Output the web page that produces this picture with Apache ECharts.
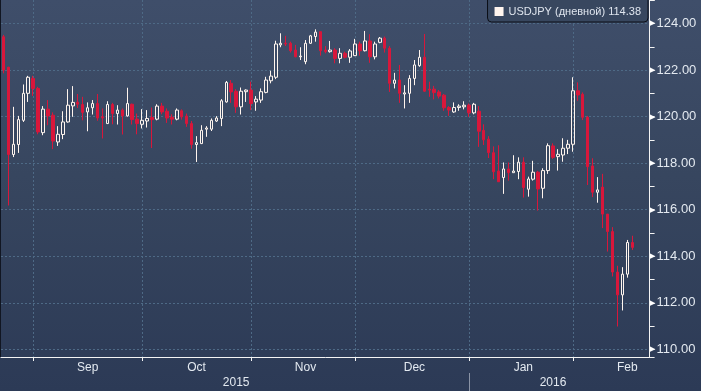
<!DOCTYPE html>
<html><head><meta charset="utf-8">
<script src="https://cdn.jsdelivr.net/npm/echarts@6/dist/echarts.min.js"></script>
<style>
html,body{margin:0;padding:0;background:#2c3a56;}
#wrap{position:relative;width:701px;height:391px;background:linear-gradient(to bottom,#3f4e6a 0%,#37465f 45%,#2c3a56 100%);overflow:hidden;}
#c{position:absolute;left:0;top:0;width:701px;height:391px;}
#edge{position:absolute;left:0;top:0;width:1px;height:357px;background:#111622;}
</style></head><body>
<div id="wrap"><div id="c"></div><div id="edge"></div></div>
<script>
const seriesName = 'USDJPY (дневной)';
// trading days (weekdays); the last three are empty future slots on the axis
const dates = [
'2015-08-21','2015-08-24','2015-08-25','2015-08-26','2015-08-27','2015-08-28','2015-08-31',
'2015-09-01','2015-09-02','2015-09-03','2015-09-04','2015-09-07','2015-09-08','2015-09-09','2015-09-10','2015-09-11',
'2015-09-14','2015-09-15','2015-09-16','2015-09-17','2015-09-18','2015-09-21','2015-09-22','2015-09-23','2015-09-24','2015-09-25',
'2015-09-28','2015-09-29','2015-09-30',
'2015-10-01','2015-10-02','2015-10-05','2015-10-06','2015-10-07','2015-10-08','2015-10-09','2015-10-12','2015-10-13','2015-10-14','2015-10-15','2015-10-16',
'2015-10-19','2015-10-20','2015-10-21','2015-10-22','2015-10-23','2015-10-26','2015-10-27','2015-10-28','2015-10-29','2015-10-30',
'2015-11-02','2015-11-03','2015-11-04','2015-11-05','2015-11-06','2015-11-09','2015-11-10','2015-11-11','2015-11-12','2015-11-13',
'2015-11-16','2015-11-17','2015-11-18','2015-11-19','2015-11-20','2015-11-23','2015-11-24','2015-11-25','2015-11-26','2015-11-27','2015-11-30',
'2015-12-01','2015-12-02','2015-12-03','2015-12-04','2015-12-07','2015-12-08','2015-12-09','2015-12-10','2015-12-11',
'2015-12-14','2015-12-15','2015-12-16','2015-12-17','2015-12-18','2015-12-21','2015-12-22','2015-12-23','2015-12-24','2015-12-25',
'2015-12-28','2015-12-29','2015-12-30','2015-12-31',
'2016-01-01','2016-01-04','2016-01-05','2016-01-06','2016-01-07','2016-01-08','2016-01-11','2016-01-12','2016-01-13','2016-01-14','2016-01-15',
'2016-01-18','2016-01-19','2016-01-20','2016-01-21','2016-01-22','2016-01-25','2016-01-26','2016-01-27','2016-01-28','2016-01-29',
'2016-02-01','2016-02-02','2016-02-03','2016-02-04','2016-02-05','2016-02-08','2016-02-09','2016-02-10','2016-02-11','2016-02-12',
'2016-02-15','2016-02-16',
'2016-02-17','2016-02-18','2016-02-19'
];
const openP = [123.43,122.12,118.37,118.80,119.84,121.00,121.64,121.21,119.31,120.32,120.06,118.91,119.23,119.77,120.46,120.62,120.52,120.20,120.38,120.56,
119.99,119.70,120.52,120.13,120.28,120.03,120.53,119.89,119.67,119.81,119.96,119.89,120.45,120.23,119.97,119.89,120.25,120.02,119.70,118.80,
118.84,119.46,119.46,119.81,119.92,120.63,121.43,121.09,120.42,121.07,121.14,120.63,120.71,121.04,121.54,121.69,123.08,123.15,123.15,122.86,
122.57,122.36,123.15,123.44,123.65,122.86,122.79,122.86,122.50,122.72,122.55,122.62,123.12,122.83,123.25,122.57,123.19,123.37,122.94,121.43,
121.57,120.97,121.00,121.64,122.19,122.55,121.18,121.18,121.06,120.92,120.39,120.20,120.39,120.42,120.49,120.16,120.23,119.41,119.03,118.45,
117.66,117.38,117.75,117.59,117.64,118.04,116.88,117.31,117.61,116.92,117.68,118.74,118.28,118.35,118.64,118.81,121.11,120.96,119.97,117.88,
116.75,116.97,115.81,115.06,113.32,112.34,113.23,114.59];
const closeP = [122.00,118.37,118.81,119.87,121.00,121.69,121.21,119.34,120.32,120.03,118.95,119.24,119.77,120.49,120.61,120.53,120.18,120.38,120.56,119.94,
119.94,120.52,120.13,120.28,120.03,120.56,119.87,119.70,119.84,119.92,119.87,120.45,120.20,119.94,119.89,120.28,119.99,119.70,118.80,118.88,
119.41,119.51,119.84,119.94,120.68,121.47,121.06,120.42,121.09,121.14,120.56,120.75,121.07,121.57,121.74,123.12,123.15,123.12,122.83,122.57,
122.60,123.15,123.47,123.63,122.83,122.79,122.86,122.50,122.72,122.55,122.82,123.12,122.83,123.25,122.57,123.12,123.37,122.94,121.43,121.57,
121.00,121.02,121.64,122.22,122.55,121.09,121.14,121.03,120.88,120.38,120.28,120.39,120.45,120.49,120.16,120.53,119.37,119.00,118.45,117.63,
117.20,117.75,117.59,117.66,118.04,116.95,117.32,117.61,116.89,117.68,118.75,118.25,118.38,118.64,118.81,121.11,120.93,119.97,117.85,116.75,
116.85,115.81,115.06,113.32,112.34,113.23,114.59,114.38];
const lowP = [121.86,116.18,118.26,118.44,119.77,120.63,120.89,119.24,119.20,119.63,118.60,118.74,119.03,119.74,119.99,120.37,119.84,119.37,120.09,119.82,
119.06,119.68,119.67,119.66,119.23,120.00,119.66,119.24,119.49,119.53,118.65,119.84,120.10,119.73,119.66,119.84,119.87,119.56,118.62,118.05,
118.82,119.13,119.38,119.77,119.59,120.60,120.59,120.16,120.09,120.63,120.28,120.25,120.59,121.00,121.43,121.61,122.98,123.03,122.75,122.55,
122.43,122.25,123.12,123.22,122.62,122.72,122.75,122.29,122.29,122.50,122.31,122.60,122.62,122.80,122.31,122.46,123.15,122.75,121.06,121.21,
120.59,120.35,120.59,121.35,122.14,121.06,120.85,120.74,120.78,120.25,120.03,120.16,120.25,120.31,119.99,120.10,118.70,118.78,118.22,117.31,
117.20,116.68,117.25,117.59,117.31,116.52,116.56,117.25,115.96,116.49,117.54,118.18,117.68,118.06,118.39,118.49,120.68,119.85,117.06,116.54,
116.30,115.21,114.20,113.13,110.98,111.67,113.08,114.27];
const highP = [123.51,122.14,120.42,120.03,121.38,121.75,121.75,121.28,120.45,120.71,120.18,119.59,120.23,121.18,121.31,120.97,120.85,120.61,120.71,120.97,
120.35,120.66,120.59,120.49,120.35,121.24,120.56,120.13,120.32,120.28,120.39,120.53,120.59,120.35,120.10,120.35,120.31,120.13,119.81,119.16,
119.63,119.59,119.92,120.02,120.75,121.53,121.57,121.18,121.25,121.17,121.50,120.88,121.21,121.71,121.97,123.26,123.58,123.47,123.22,123.08,
122.98,123.29,123.51,123.75,123.65,123.03,123.25,122.94,122.94,122.79,122.90,123.34,123.22,123.68,123.54,123.22,123.42,123.44,123.03,121.88,
122.22,121.35,121.78,122.43,122.86,123.55,121.50,121.32,121.14,120.97,120.45,120.61,120.53,120.66,120.56,120.59,120.45,119.67,119.16,118.72,
118.77,118.03,118.03,118.34,118.25,118.25,117.42,118.10,117.67,117.78,118.85,118.85,118.60,119.07,119.00,121.69,121.47,121.04,120.03,118.21,
117.40,117.54,115.81,115.25,113.59,113.53,114.70,114.88];
const monthNames = ['Jan','Feb','Mar','Apr','May','Jun','Jul','Aug','Sep','Oct','Nov','Dec'];

const lastClose = closeP[closeP.length - 1];
const candles = openP.map((o, i) => [o, closeP[i], lowP[i], highP[i]]);

// --- axis helpers (layout only) ---
const monthEnd = new Set();
for (let i = 0; i < dates.length - 1; i++) {
  if (dates[i].slice(0, 7) !== dates[i + 1].slice(0, 7)) monthEnd.add(i);
}
const yearEnd = new Set();
for (let i = 0; i < dates.length - 1; i++) {
  if (dates[i].slice(0, 4) !== dates[i + 1].slice(0, 4)) yearEnd.add(i);
}
function weekdaysInMonth(y, m) {
  let n = 0; const d = new Date(Date.UTC(y, m, 1));
  while (d.getUTCMonth() === m) { const w = d.getUTCDay(); if (w && w < 6) n++; d.setUTCDate(d.getUTCDate() + 1); }
  return n;
}
const monthLabel = new Set();
for (let i = 0; i < dates.length; i++) {
  const isFirst = i === 0 || dates[i].slice(0, 7) !== dates[i - 1].slice(0, 7);
  if (!isFirst) continue;
  const y = +dates[i].slice(0, 4), m = +dates[i].slice(5, 7) - 1, d = +dates[i].slice(8, 10);
  if (d > 4) continue;
  monthLabel.add(Math.floor(i + (weekdaysInMonth(y, m) - 1) / 2));
}
const yearLabel = new Set();
{
  const n = candles.length; let start = 0;
  for (let i = 1; i <= n; i++) {
    if (i === n || dates[i].slice(0, 4) !== dates[i - 1].slice(0, 4)) { yearLabel.add(Math.floor((start + i - 1) / 2)); start = i; }
  }
}

const Y_MIN = 109.67, Y_MAX = 125.01;
const SLOT = 4.951;
const gridRight = 701 - 1 - dates.length * SLOT;
const gridColor = '#4e6a86';
const txt = '#e3e9f0';
const font = 'Liberation Sans, Arial, sans-serif';

const chart = echarts.init(document.getElementById('c'), null, {renderer: 'canvas'});
chart.setOption({
  animation: false,
  backgroundColor: 'transparent',
  grid: {left: 1, right: gridRight, top: 0, bottom: 34, containLabel: false},
  legend: {
    right: 53, top: -6, padding: [12, 7, 5, 7], itemWidth: 9, itemHeight: 9,
    backgroundColor: '#38475f', borderColor: '#0b0e16', borderWidth: 1, borderRadius: 4,
    selectedMode: false,
    data: [{name: seriesName, icon: 'rect', itemStyle: {color: '#fff5ee', borderWidth: 0}}],
    formatter: n => n + ' ' + lastClose.toFixed(2),
    textStyle: {color: '#dfe5ee', fontSize: 11, fontFamily: font}
  },
  xAxis: [{
    type: 'category', data: dates, boundaryGap: true, position: 'bottom',
    axisLine: {show: true, lineStyle: {color: '#f4f4f4', width: 1}},
    axisTick: {show: true, length: 4, alignWithLabel: true, interval: (i) => monthEnd.has(i), lineStyle: {color: '#f4f4f4'}},
    splitLine: {show: true, alignWithLabel: true, interval: (i) => monthEnd.has(i), lineStyle: {color: gridColor, type: [2, 2], width: 1}},
    axisLabel: {show: true, interval: (i) => monthLabel.has(i), margin: 5, color: txt, fontSize: 12, fontFamily: 'Liberation Sans Narrow, ' + font,
      formatter: (v) => monthNames[+v.slice(5, 7) - 1]}
  }, {
    type: 'category', data: dates, boundaryGap: true, position: 'bottom', offset: 16,
    axisLine: {show: false},
    axisTick: {show: true, length: 18, alignWithLabel: true, interval: (i) => yearEnd.has(i), lineStyle: {color: '#8a93a5'}},
    splitLine: {show: false},
    axisLabel: {show: true, interval: (i) => yearLabel.has(i), margin: 4, color: txt, fontSize: 12, fontFamily: 'Liberation Sans Narrow, ' + font,
      formatter: (v) => v.slice(0, 4)}
  }],
  yAxis: [{
    type: 'value', position: 'right', min: Y_MIN, max: Y_MAX, splitNumber: 8, minInterval: 2, maxInterval: 2, scale: true,
    axisLine: {show: true, lineStyle: {color: '#f4f4f4', width: 1}},
    axisTick: {show: false},
    splitLine: {show: true, showMinLine: false, showMaxLine: false, lineStyle: {color: gridColor, type: [2, 2], width: 1}},
    axisLabel: {show: true, margin: 0, showMinLabel: false, showMaxLabel: false,
      formatter: (v) => '{t|▶}{v|' + v.toFixed(2) + '}',
      rich: {t: {fontSize: 7, color: '#ffffff', padding: [0, 1, 0, 0]}, v: {fontSize: 13, color: txt, fontFamily: font, padding: [0, 0, 0, 1]}}}
  }, {
    type: 'value', position: 'right', min: Y_MIN, max: Y_MAX, splitNumber: 15, minInterval: 1, maxInterval: 1, scale: true,
    axisLine: {show: false},
    axisTick: {show: true, length: 5, lineStyle: {color: '#f4f4f4'}},
    splitLine: {show: false},
    axisLabel: {show: false}
  }],
  series: [{
    name: seriesName, type: 'candlestick', xAxisIndex: 0, yAxisIndex: 0,
    data: candles, barWidth: 3, barMinWidth: 3,
    itemStyle: {color: 'transparent', color0: '#d8173b', borderColor: '#fff5ee', borderColor0: '#d8173b', borderWidth: 1},
    markLine: {
      silent: true, symbol: 'none', animation: false,
      lineStyle: {opacity: 0},
      data: [{yAxis: lastClose}],
      label: {show: true, position: 'end', distance: 3, formatter: () => lastClose.toFixed(2),
        color: '#000', fontSize: 13, fontFamily: font, backgroundColor: '#fff8f2', borderColor: '#000', borderWidth: 1, padding: [2, 4, 1, 4]}
    }
  }]
});
</script>
</body></html>
